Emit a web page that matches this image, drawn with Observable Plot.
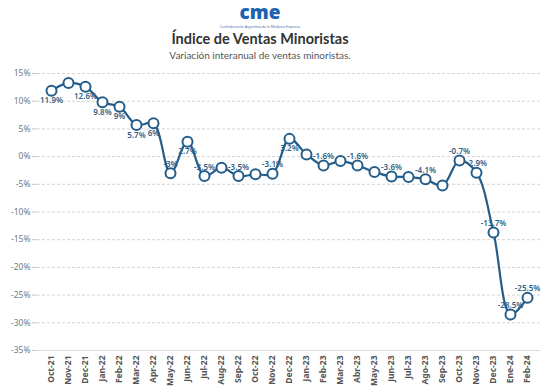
<!DOCTYPE html>
<html>
<head>
<meta charset="utf-8">
<script src="https://cdn.jsdelivr.net/npm/d3@7"></script>
<script src="https://cdn.jsdelivr.net/npm/@observablehq/plot@0.6"></script>
<style>
  body { margin: 0; background: #fff; font-family: "Noto Sans", sans-serif; }
  #wrap { width: 560px; height: 390px; position: relative; overflow: hidden; }
  #head { position: relative; height: 64px; }
  #head div { position: absolute; left: 0; width: 520px; text-align: center; line-height: 1; white-space: nowrap; }
  #head .logo { top: -1px; line-height: normal; font-family: "Noto Sans", sans-serif; font-weight: 900; font-size: 19px; color: #1b62b0; }
  .tag { top: 25px; font-size: 3.5px; color: #4a72b0; }
  .title { top: 32px; font-family: Lato, sans-serif; font-size: 14.5px; font-weight: 700; color: #333; }
  .sub { top: 50px; font-family: Lato, sans-serif; font-size: 10px; color: #555; }
</style>
</head>
<body>
<div id="wrap">
  <div id="head">
    <div class="logo">cme</div>
    <div class="tag">Confederación Argentina de la Mediana Empresa</div>
    <div class="title">Índice de Ventas Minoristas</div>
    <div class="sub">Variación interanual de ventas minoristas.</div>
  </div>
  <div id="chart"></div>
</div>
<script>
const months = ["Oct-21","Nov-21","Dec-21","Jan-22","Feb-22","Mar-22","Apr-22","May-22","Jun-22","Jul-22","Aug-22","Sep-22","Oct-22","Nov-22","Dec-22","Jan-23","Feb-23","Mar-23","Abr-23","May-23","Jun-23","Jul-23","Ago-23","Sep-23","Oct-23","Nov-23","Dec-23","Ene-24","Feb-24"];
const values = [11.9, 13.3, 12.6, 9.8, 9.0, 5.7, 6.0, -3.0, 2.7, -3.5, -2.0, -3.5, -3.2, -3.1, 3.2, 0.4, -1.6, -0.8, -1.6, -2.8, -3.6, -3.7, -4.1, -5.2, -0.7, -2.9, -13.7, -28.5, -25.5];
const labels = ["11.9%","","12.6%","9.8%","9%","5.7%","6%","-3%","2.7%","-3.5%","","-3.5%","","-3.1%","3.2%","","-1.6%","","-1.6%","","-3.6%","","-4.1%","","-0.7%","-2.9%","-13.7%","-28.5%","-25.5%"];
const labelsBelow = ["Oct-21","Dec-21","Jan-22","Feb-22","Mar-22","Apr-22","Jun-22","Dec-22"];
const yTicks = [15, 10, 5, 0, -5, -10, -15, -20, -25, -30, -35];

const data = months.map((m, i) => ({month: m, value: values[i], label: labels[i]}));
const lbl = data.filter(d => d.label !== "");
const below = lbl.filter(d => labelsBelow.includes(d.month));
const above = lbl.filter(d => !labelsBelow.includes(d.month));

const blue = "#245d8a";
const chart = Plot.plot({
  width: 560,
  height: 326,
  marginTop: 9,
  marginBottom: 40,
  marginLeft: 37,
  marginRight: 20,
  style: {fontFamily: "Noto Sans, sans-serif", background: "transparent"},
  x: {type: "point", domain: months, padding: 0.5, label: null},
  y: {domain: [-35, 15], label: null},
  marks: [
    Plot.gridY(yTicks.filter(t => t !== -35), {stroke: "#d4d4d4", strokeOpacity: 1, strokeDasharray: "3,2"}),
    Plot.ruleY([-35], {stroke: "#dcdcdc"}),
    Plot.axisY(yTicks, {tickSize: 5, tickPadding: 2, stroke: "#c4c4c4", fill: "#777", fontSize: 8.5, tickFormat: d => d + "%"}),
    Plot.axisX({tickSize: 0, tickRotate: -90, tickPadding: 5, fill: "#555", fontSize: 8.5, fontWeight: 700}),
    Plot.line(data, {x: "month", y: "value", stroke: blue, strokeWidth: 2.2, curve: "catmull-rom"}),
    Plot.dot(data, {x: "month", y: "value", r: 5, fill: "white", stroke: blue, strokeWidth: 2}),
    Plot.text(below, {x: "month", y: "value", text: "label", dy: 10, fill: "#2f5f88", fontSize: 8, fontWeight: 600}),
    Plot.text(above, {x: "month", y: "value", text: "label", dy: -9, fill: "#2f5f88", fontSize: 8, fontWeight: 600})
  ]
});
document.getElementById("chart").appendChild(chart);
</script>
</body>
</html>
